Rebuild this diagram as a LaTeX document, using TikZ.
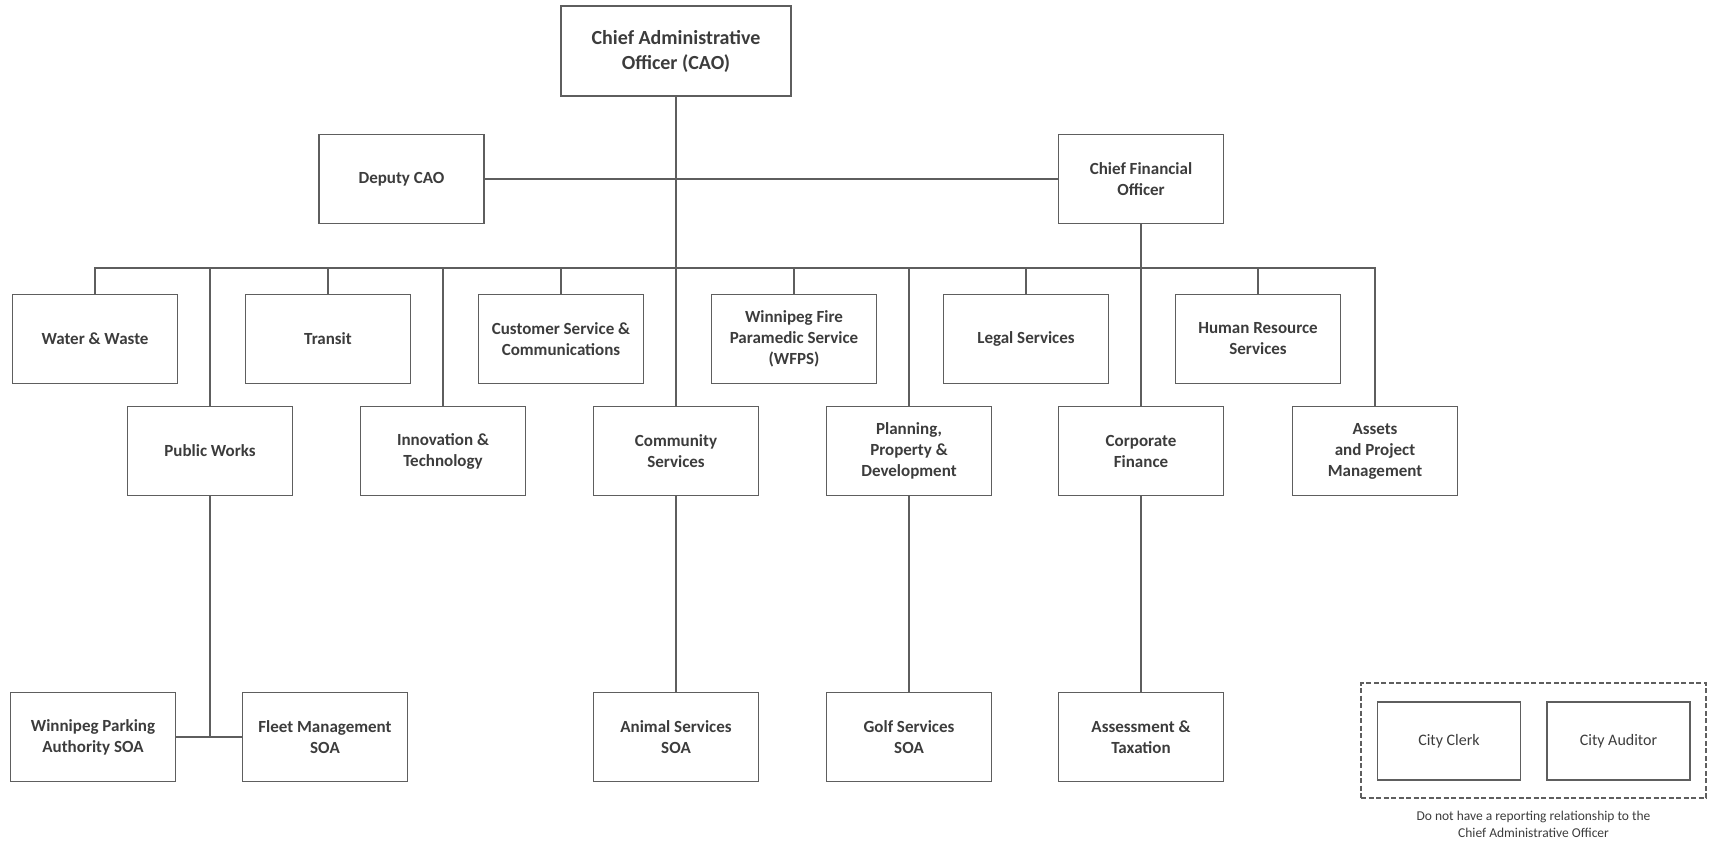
\documentclass[tikz,border=0pt]{standalone}
\usepackage{fontspec}
\setmainfont{Carlito}
\usetikzlibrary{positioning}

\definecolor{boxline}{HTML}{5E5E5E}
\definecolor{boxtext}{HTML}{3C3C3C}

\tikzset{
  unitbox/.style={draw=boxline, line width=1.6pt, minimum width=165pt, minimum height=89pt,
    inner sep=2pt, align=center, text=boxtext, font=\fontsize{17}{21}\selectfont\bfseries},
  topbox/.style={unitbox, minimum width=230pt, minimum height=90pt, font=\fontsize{20}{25}\selectfont\bfseries},
  smallbox/.style={draw=boxline, line width=1.4pt, minimum width=143pt, minimum height=78pt,
    align=center, text=boxtext, font=\fontsize{16}{20}\selectfont},
  framebox/.style={draw=boxline, line width=1.3pt, dash pattern=on 5pt off 2.5pt,
    minimum width=345pt, minimum height=115pt},
  link/.style={draw=boxline, line width=1.6pt}
}

\begin{document}
\begin{tikzpicture}[x=1pt,y=-1pt]
\useasboundingbox (0,0) rectangle (1712,841);

% top level
\node[topbox] (cao) at (676,51) {Chief Administrative\\Officer (CAO)};
\node[unitbox] (deputy) at (401.5,179) {Deputy CAO};
\node[unitbox] (cfo) at (1141,179) {Chief Financial\\Officer};

% first row of departments
\node[unitbox] (water) at (95,339) {Water \& Waste};
\node[unitbox] (transit) at (328,339) {Transit};
\node[unitbox] (custsvc) at (561,339) {Customer Service \&\\Communications};
\node[unitbox] (wfps) at (794,339) {Winnipeg Fire\\Paramedic Service\\(WFPS)};
\node[unitbox] (legal) at (1026,339) {Legal Services};
\node[unitbox] (hr) at (1258,339) {Human Resource\\Services};

% second row of departments
\node[unitbox] (pubworks) at (210,451) {Public Works};
\node[unitbox] (innov) at (443,451) {Innovation \&\\Technology};
\node[unitbox] (community) at (676,451) {Community\\Services};
\node[unitbox] (planning) at (909,451) {Planning,\\Property \&\\Development};
\node[unitbox] (corpfin) at (1141,451) {Corporate\\Finance};
\node[unitbox] (assets) at (1375,451) {Assets\\and Project\\Management};

% special operating agencies
\node[unitbox] (parking) at (93,737) {Winnipeg Parking\\Authority SOA};
\node[unitbox] (fleet) at (325,737) {Fleet Management\\SOA};
\node[unitbox] (animal) at (676,737) {Animal Services\\SOA};
\node[unitbox] (golf) at (909,737) {Golf Services\\SOA};
\node[unitbox] (assess) at (1141,737) {Assessment \&\\Taxation};

% outside the CAO
\node[framebox] (frame) at (1533.5,740.5) {};
\node[smallbox] (clerk) at (1449,741) {City Clerk};
\node[smallbox] (auditor) at (1618.5,741) {City Auditor};
\node[text=boxtext, align=center, font=\fontsize{13.5}{16.5}\selectfont, below=9pt of frame] (note)
  {Do not have a reporting relationship to the\\Chief Administrative Officer};

\coordinate (bus) at (0,268);
\draw[link] (deputy) -- (cfo);
\draw[link] (cao) -- (community);
\draw[link] (cfo) -- (corpfin);
\draw[link] (water.north) -- (water.north |- bus) -- (assets.north |- bus) -- (assets.north);
\foreach \n in {transit,custsvc,wfps,legal,hr,pubworks,innov,planning}
  \draw[link] (\n.north) -- (\n.north |- bus);
\draw[link] (parking) -- (fleet);
\draw[link] (pubworks) -- (pubworks |- parking);
\draw[link] (community) -- (animal);
\draw[link] (planning) -- (golf);
\draw[link] (corpfin) -- (assess);
\end{tikzpicture}
\end{document}
